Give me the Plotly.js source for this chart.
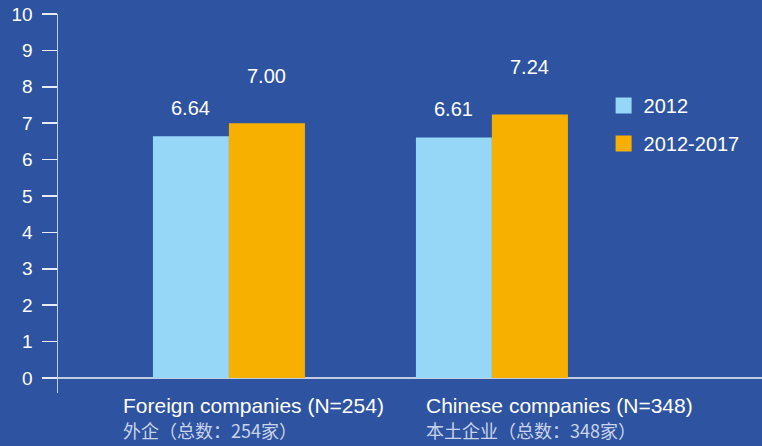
<!DOCTYPE html>
<html>
<head>
<meta charset="utf-8">
<script src="https://cdn.plot.ly/plotly-3.0.1.min.js"></script>
<style>html,body{margin:0;padding:0;background:#2E54A1;}#chart{width:762px;height:446px;}</style>
</head>
<body>
<div id="chart"></div>
<script>
var categories = ["Foreign companies (N=254)", "Chinese companies (N=348)"];
var categoriesZh = ["外企（总数：254家）", "本土企业（总数：348家）"];
var seriesNames = ["2012", "2012-2017"];
var values2012 = [6.64, 6.61];
var values20122017 = [7.00, 7.24];
var yTicks = [0, 1, 2, 3, 4, 5, 6, 7, 8, 9, 10];

var colors = ["#96D6F6", "#F8B000"];
var bg = "#2E54A1";
var lineCol = "#C3CDE2";
var FONT = "Liberation Sans, Arial, sans-serif";

var xIdx = categories.map(function (_, i) { return i; });

var traces = [
  { type: "bar", x: xIdx, y: values2012, name: seriesNames[0], marker: { color: colors[0] }, showlegend: false, hoverinfo: "none" },
  { type: "bar", x: xIdx, y: values20122017, name: seriesNames[1], marker: { color: colors[1] }, showlegend: false, hoverinfo: "none" },
  { type: "scatter", mode: "markers", x: [null], y: [null], name: seriesNames[0], marker: { symbol: "square", size: 16, color: colors[0] }, legendgroup: "a" },
  { type: "scatter", mode: "markers", x: [null], y: [null], name: seriesNames[1], marker: { symbol: "square", size: 16, color: colors[1] }, legendgroup: "b" }
];

var annotations = [];
var series = [values2012, values20122017];
var xs = [-38, 38];
var ys = [28, 47];
series.forEach(function (vals, s) {
  vals.forEach(function (v, i) {
    annotations.push({
      x: i, y: v, xref: "x", yref: "y", text: v.toFixed(2), showarrow: false,
      xanchor: "center", yanchor: "middle", xshift: xs[s], yshift: ys[s],
      font: { family: FONT, size: 20, color: "#FFFFFF" }
    });
  });
});
var labelX = [0.0923, 0.5227];
categories.forEach(function (c, i) {
  annotations.push({
    x: labelX[i], y: 0, xref: "paper", yref: "paper", text: c, showarrow: false,
    xanchor: "left", yanchor: "middle", yshift: -12, xshift: -2,
    font: { family: FONT, size: 21, color: "#FFFFFF" }
  });
  annotations.push({
    x: labelX[i], y: 0, xref: "paper", yref: "paper", text: categoriesZh[i], showarrow: false,
    xanchor: "left", yanchor: "middle", yshift: -37, xshift: -2,
    font: { family: "Noto Sans CJK SC, sans-serif", size: 18, color: "#C9D3EA" }
  });
});

var layout = {
  width: 762, height: 446,
  margin: { l: 58, r: 0, t: 14, b: 53 },
  paper_bgcolor: bg, plot_bgcolor: bg,
  barmode: "group", bargap: 0.422, bargroupgap: 0,
  font: { family: FONT, color: "#FFFFFF", size: 19 },
  xaxis: {
    range: [-0.65, 2.027], showgrid: false, zeroline: false, showline: false,
    showticklabels: false, ticks: "", fixedrange: true
  },
  yaxis: {
    range: [-0.412, 10], tickvals: yTicks, ticktext: yTicks.map(String),
    showgrid: false, zeroline: true, zerolinecolor: lineCol, zerolinewidth: 1.5,
    showline: true, linecolor: lineCol, linewidth: 1.5,
    ticks: "outside", ticklen: 15, tickcolor: "#E6EBF5", tickwidth: 1.5,
    ticklabelstandoff: 5,
    tickfont: { family: FONT, size: 19, color: "#FFFFFF" }
  },
  showlegend: true,
  legend: {
    x: 0.775, y: 0.81, xanchor: "left", yanchor: "top",
    bgcolor: "rgba(0,0,0,0)", borderwidth: 0,
    font: { family: FONT, size: 20, color: "#FFFFFF" },
    tracegroupgap: 9, itemclick: false, itemdoubleclick: false
  },
  annotations: annotations
};

Plotly.newPlot("chart", traces, layout, { displayModeBar: false, staticPlot: true });
</script>
</body>
</html>
